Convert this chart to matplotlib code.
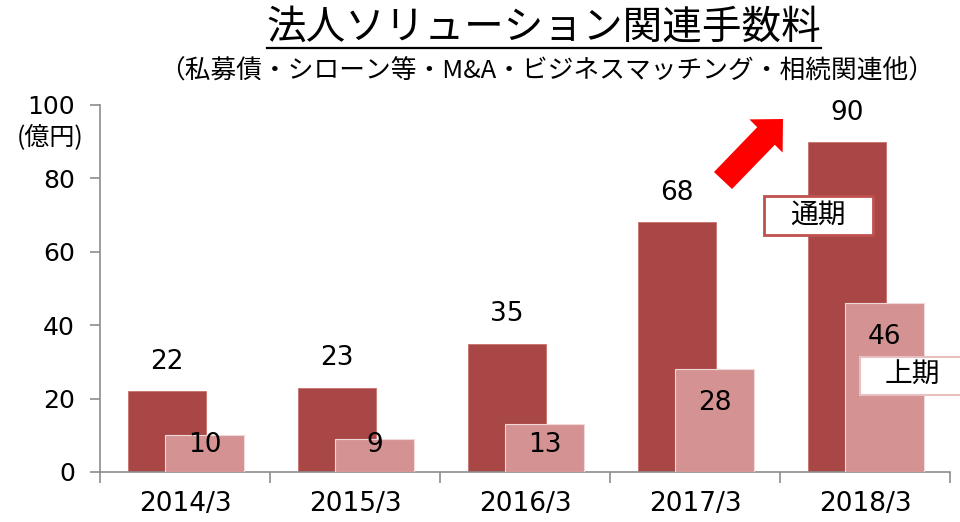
import matplotlib
matplotlib.use('Agg')
import matplotlib.pyplot as plt
from matplotlib.lines import Line2D
from matplotlib.patches import Polygon, Rectangle
import numpy as np

plt.rcParams['font.family'] = ['DejaVu Sans', 'Noto Sans CJK JP']
jp = ['Noto Sans CJK JP', 'DejaVu Sans']

# data
years = ['2014/3', '2015/3', '2016/3', '2017/3', '2018/3']
full_year = [22, 23, 35, 68, 90]   # 通期
first_half = [10, 9, 13, 28, 46]   # 上期

dark = '#A84745'
light = '#D49392'

W, H = 960, 522
fig = plt.figure(figsize=(9.6, 5.22), dpi=100)
ax = fig.add_axes([0.1042, 0.0958, 0.8854, 0.7031])


def px(x, y):
    # pixel (y down) -> figure fraction
    return (x / W, 1 - y / H)


x = np.arange(len(years))
w = 0.46
ax.bar(x - 0.105, full_year, w, color=dark, edgecolor='#C8706E', linewidth=0.6, zorder=2)
ax.bar(x + 0.115, first_half, w, color=light, edgecolor='#F0D8D8', linewidth=0.8, zorder=3)

# value labels
for xi, v in zip(x, full_year):
    ax.annotate(str(v), (xi - 0.105, v), xytext=(0, 21), textcoords='offset points',
                ha='center', va='center', fontsize=19, zorder=5)
for xi, v in zip(x, first_half):
    ax.text(xi + 0.115, max(v - 9.3, 7.4), str(v), ha='center', va='center',
            fontsize=19, zorder=5)

ax.set_xlim(-0.5, 4.5)
ax.set_ylim(0, 100)
ax.set_yticks(np.arange(0, 101, 20))
ax.set_xticks(x)
ax.set_xticklabels(years, fontsize=19)
ax.set_xticks(np.arange(-0.5, 4.6, 1), minor=True)
ax.tick_params(axis='x', which='major', length=0, pad=14)
ax.tick_params(axis='x', which='minor', length=8, color='#8C8C8C', width=1.2)
ax.tick_params(axis='y', labelsize=18, length=7, color='#8C8C8C', width=1.2, pad=11)
for s in ['top', 'right']:
    ax.spines[s].set_visible(False)
for s in ['left', 'bottom']:
    ax.spines[s].set_color('#8C8C8C')
    ax.spines[s].set_linewidth(1.2)

# unit
fig.text(*px(50, 138), '(億円)', ha='center', va='center', fontsize=18, family=jp)

# title
t = fig.text(*px(544, 28), '法人ソリューション関連手数料', ha='center', va='center',
             fontsize=28.5, family=jp)
fig.text(*px(547, 72), '（私募債・シローン等・M&A・ビジネスマッチング・相続関連他）',
         ha='center', va='center', fontsize=18.5, family=jp)
fig.canvas.draw()
bb = t.get_window_extent().transformed(fig.transFigure.inverted())
uy = 1 - 48 / H
fig.add_artist(Line2D([bb.x0, bb.x1], [uy, uy], color='black', linewidth=1.6))

# arrow (pixel outline)
arrow_px = [(714, 172), (757.2, 127.2), (749.4, 119.4), (783, 119),
            (782.6, 152.6), (774.8, 144.8), (732, 189)]
fig.add_artist(Polygon([px(a, b) for a, b in arrow_px], closed=True,
                       facecolor='#FF0000', edgecolor='none',
                       transform=fig.transFigure, zorder=6))

# legend callouts
fig.add_artist(Rectangle(px(764, 235), 109 / W, 39 / H,
                         facecolor='white', edgecolor='#C0504D', linewidth=2,
                         transform=fig.transFigure, zorder=6))
fig.text(*px(818, 215), '通期', ha='center', va='center', fontsize=20,
         family=jp, zorder=7)
fig.add_artist(Rectangle(px(860, 395), 110 / W, 38 / H,
                         facecolor='white', edgecolor='#E8C0C0', linewidth=1.5,
                         transform=fig.transFigure, zorder=6))
fig.text(*px(912, 375), '上期', ha='center', va='center', fontsize=20,
         family=jp, zorder=7)

fig.savefig('out.png', dpi=100)
